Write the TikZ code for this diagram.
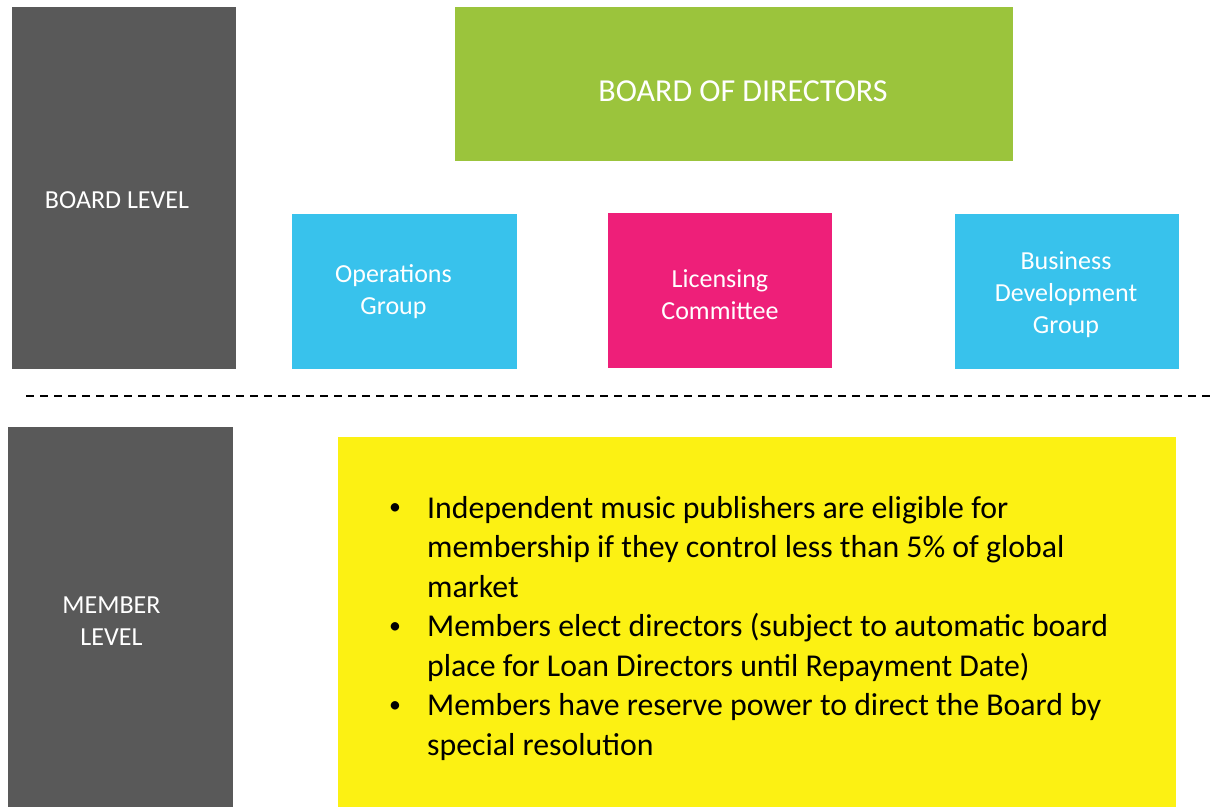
\documentclass[tikz,border=0pt]{standalone}
\usepackage{fontspec}
\setmainfont{Carlito}
\definecolor{lvlgrey}{HTML}{595959}
\definecolor{bodgreen}{HTML}{9BC43C}
\definecolor{grpblue}{HTML}{38C2EC}
\definecolor{licpink}{HTML}{EE1F79}
\definecolor{memyellow}{HTML}{FCF113}
\newcommand{\smbullet}{\raisebox{0.12em}{\scalebox{0.75}{\textbullet}}}
\begin{document}
\begin{tikzpicture}[x=1pt,y=-1pt,
  blk/.style={inner sep=0pt, outer sep=0pt, anchor=north west},
  lbl/.style={text=white, align=center, inner sep=0pt, font=\fontsize{26}{32}\selectfont}]
\useasboundingbox (0,0) rectangle (1212,807);
% boxes
\node[blk, fill=lvlgrey, minimum width=224, minimum height=362] (blevel) at (12,7) {};
\node[blk, fill=bodgreen, minimum width=558, minimum height=154] (bod) at (455,7) {};
\node[blk, fill=grpblue, minimum width=225, minimum height=155] (ops) at (292,214) {};
\node[blk, fill=licpink, minimum width=224, minimum height=155] (lic) at (608,213) {};
\node[blk, fill=grpblue, minimum width=224, minimum height=155] (bdg) at (955,214) {};
\node[blk, fill=lvlgrey, minimum width=225, minimum height=380] (mlevel) at (8,427) {};
\node[blk, fill=memyellow, minimum width=838, minimum height=370] (mem) at (338,437) {};
% labels
\node[lbl] (tblevel) at ([xshift=-7, yshift=-12]blevel.center) {BOARD LEVEL};
\node[lbl, font=\fontsize{32}{38}\selectfont] (tbod) at ([xshift=9, yshift=-7]bod.center) {BOARD OF DIRECTORS};
\node[lbl] (tops) at ([xshift=-11, yshift=0]ops.center) {Operations\\Group};
\node[lbl] (tlic) at ([yshift=-4]lic.center) {Licensing\\Committee};
\node[lbl] (tbdg) at ([xshift=-1, yshift=-3]bdg.center) {Business\\Development\\Group};
\node[lbl] (tmlevel) at ([xshift=-9, yshift=-4]mlevel.center) {MEMBER\\LEVEL};
% divider
\coordinate (dl) at (26,396);
\coordinate (dr) at (1212,396);
\draw[line width=2pt, dash pattern=on 8pt off 6pt] (dl) -- (dr);
% bullet text
\node[anchor=west, inner sep=0pt, font=\fontsize{31.8}{39.5}\selectfont] (tmem) at ([xshift=51, yshift=-7]mem.west) {%
\begin{tabular}{@{}p{38pt}@{}l@{}}
\smbullet & Independent music publishers are eligible for\\
 & membership if they control less than 5\% of global\\
 & market\\
\smbullet & Members elect directors (subject to automatic board\\
 & place for Loan Directors until Repayment Date)\\
\smbullet & Members have reserve power to direct the Board by\\
 & special resolution
\end{tabular}};
\end{tikzpicture}
\end{document}
